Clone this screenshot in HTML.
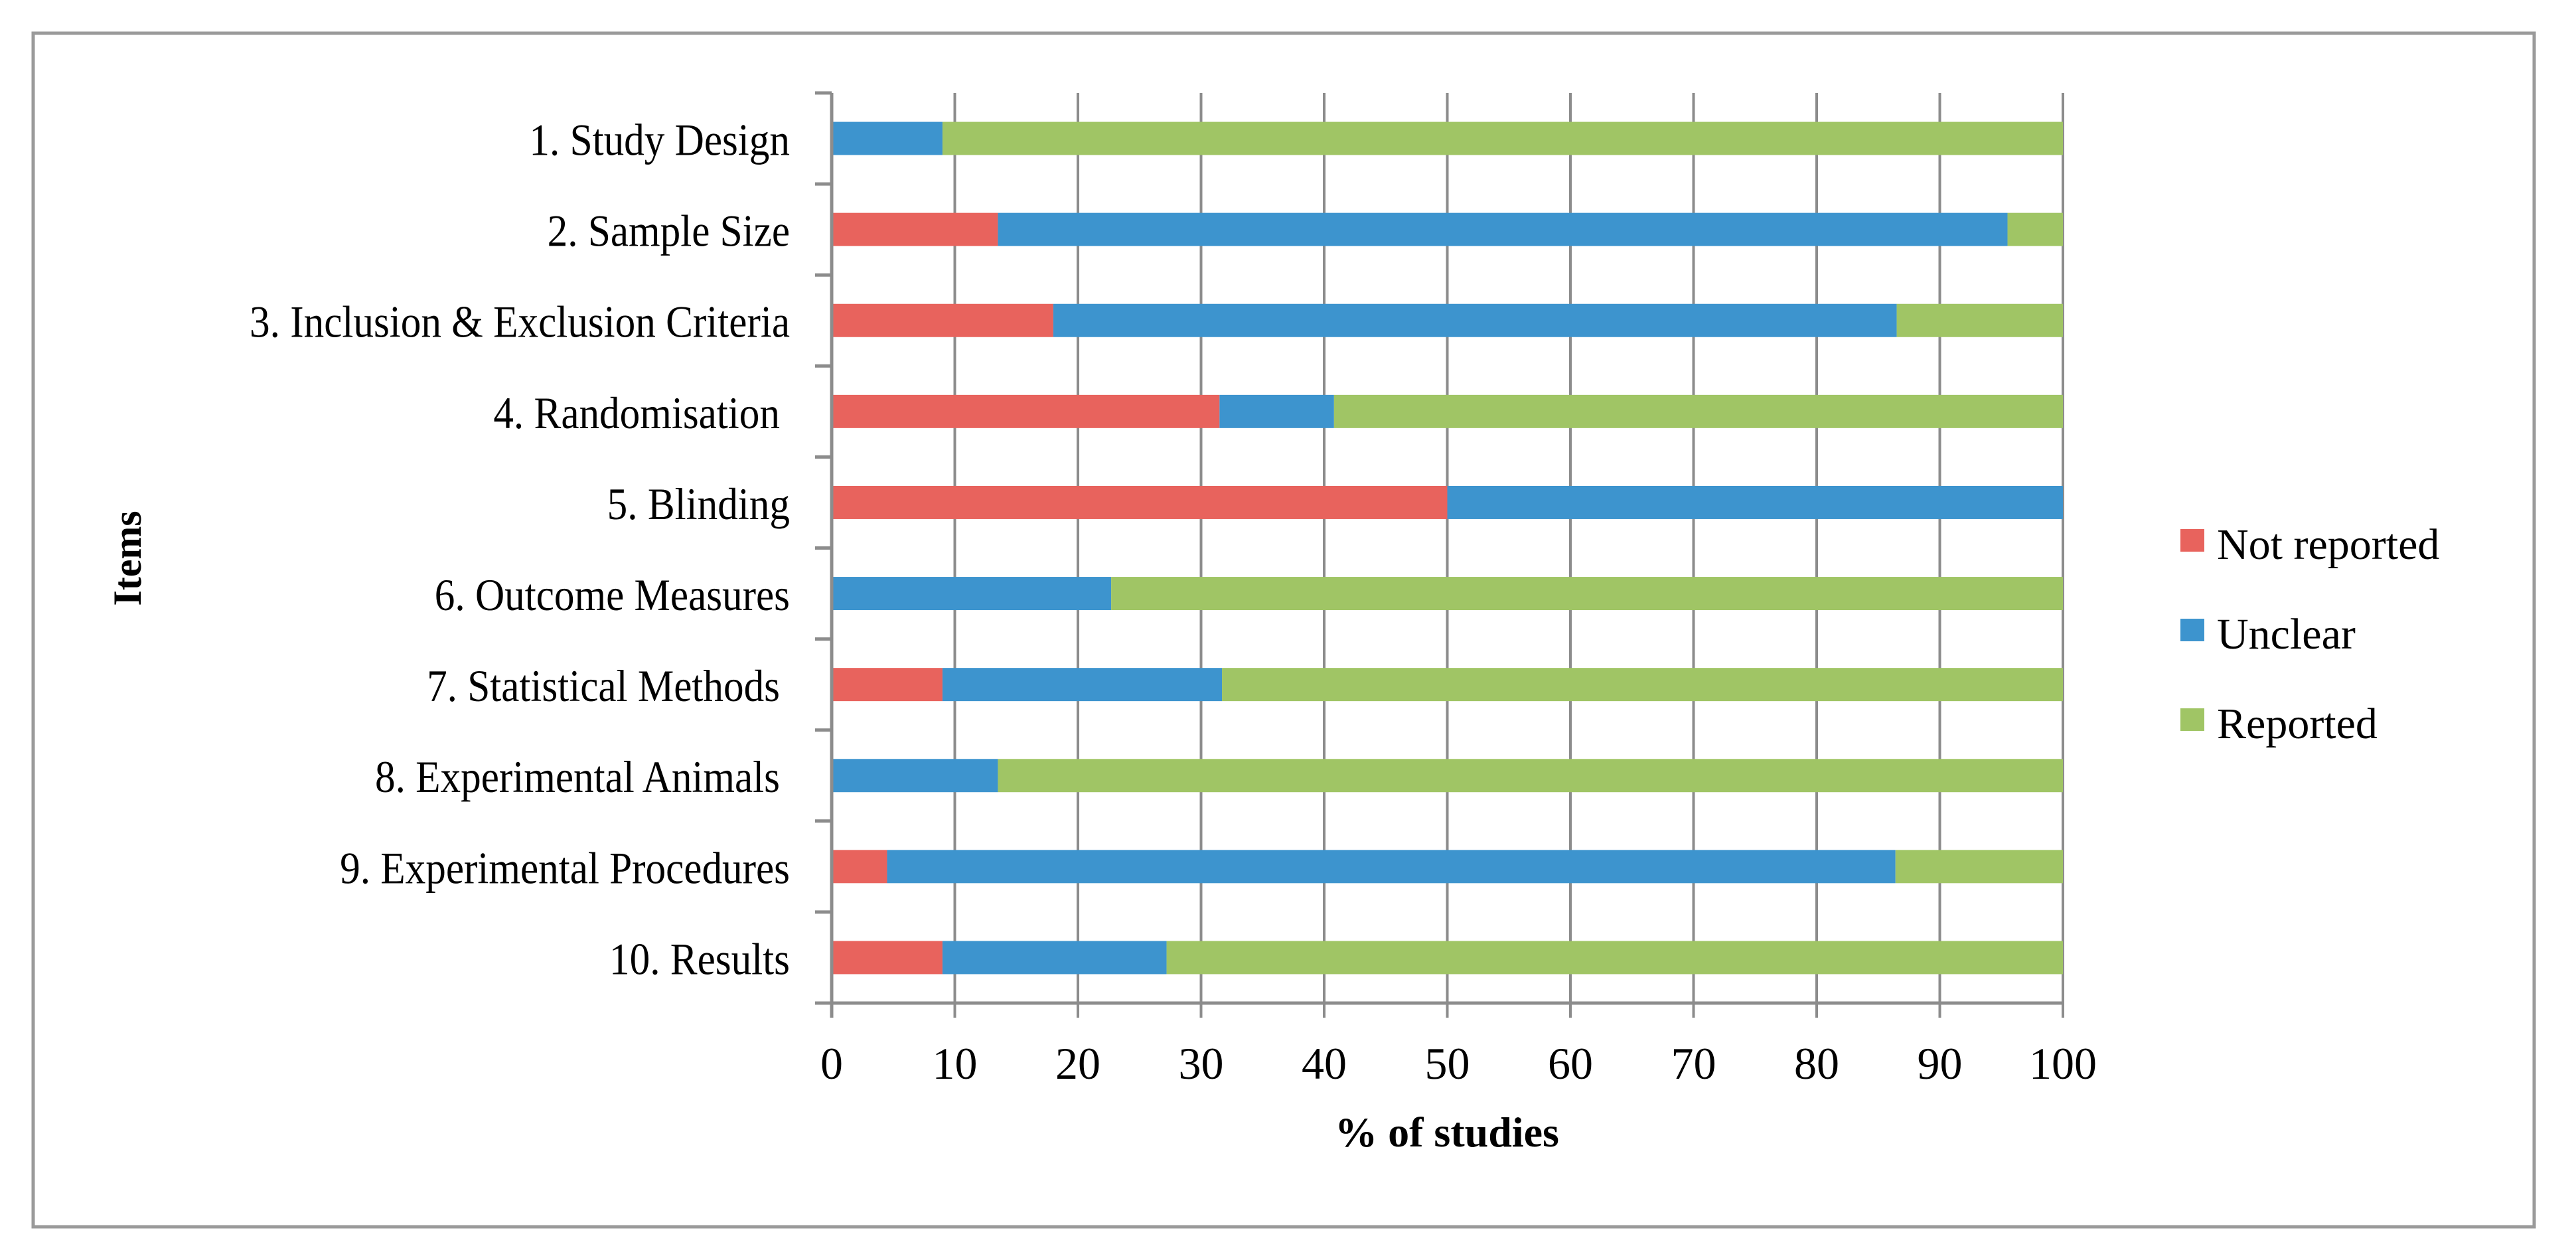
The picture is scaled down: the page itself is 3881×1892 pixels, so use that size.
<!DOCTYPE html>
<html><head><meta charset="utf-8"><style>
html,body{margin:0;padding:0;background:#fff;}
svg{display:block;}
text{font-family:"Liberation Serif",serif;fill:#000;}
</style></head><body>
<svg id="chart" width="3881" height="1892" viewBox="0 0 3881 1892" xmlns="http://www.w3.org/2000/svg">
<rect x="0" y="0" width="3881" height="1892" fill="#fff"/>
<rect x="50" y="50" width="3768" height="1798" fill="none" stroke="#9a9a9a" stroke-width="5"/>
<g id="grid"></g>
<g id="bars"></g>
<g id="axes"></g>
<g id="labels"></g>
<g id="ticks"></g>
<text x="2180" y="1727" font-size="64" font-weight="bold" text-anchor="middle">% of studies</text>
<text transform="translate(212,841) rotate(-90)" font-size="60" font-weight="bold" text-anchor="middle">Items</text>
<g id="legend"></g>
</svg>
<script>
const categories = ["1. Study Design","2. Sample Size","3. Inclusion & Exclusion Criteria","4. Randomisation","5. Blinding","6. Outcome Measures","7. Statistical Methods","8. Experimental Animals","9. Experimental Procedures","10. Results"];
const notReported = [0,13.5,18,31.5,50,0,9,0,4.5,9];
const unclear = [9,82,68.5,9.3,50,22.7,22.7,13.5,81.9,18.2];
const reported = [91,4.5,13.5,59.2,0,77.3,68.3,86.5,13.6,72.8];
const xTicks = [0,10,20,30,40,50,60,70,80,90,100];
const seriesNames = ["Not reported","Unclear","Reported"];

const NS = "http://www.w3.org/2000/svg";
const X0 = 1253, X1 = 3108, TOP = 140, BOT = 1511;
const band = (BOT - TOP) / categories.length;
const barH = 50;
const colors = ["#E8635D","#3D94CE","#A0C565"];
function xs(v){ return X0 + (X1 - X0) * v / 100; }
function yc(i){ return TOP + band * (i + 0.5); }
function mk(tag, attrs, parent){ const e = document.createElementNS(NS, tag); for (const k in attrs) e.setAttribute(k, attrs[k]); parent.appendChild(e); return e; }

const grid = document.getElementById('grid');
xTicks.forEach(t => {
  const l = mk('line', {x1: xs(t), x2: xs(t), y1: TOP, y2: BOT + 22, stroke: '#8c8c8c', 'stroke-width': 4}, grid);
  
  
});

const bars = document.getElementById('bars');
const series = [notReported, unclear, reported];
categories.forEach((c, i) => {
  let acc = 0;
  series.forEach((s, k) => {
    const v = s[i];
    if (v > 0) {
      const r = mk('rect', {x: xs(acc), y: yc(i) - barH / 2, width: xs(acc + v) - xs(acc), height: barH, fill: colors[k]}, bars);
      
      
    }
    acc += v;
  });
});

const axes = document.getElementById('axes');
const ya = mk('line', {x1: X0, x2: X0, y1: TOP, y2: BOT + 22, stroke: '#8c8c8c', 'stroke-width': 5}, axes);


const xa = mk('line', {x1: X0 - 25, x2: X1, y1: BOT, y2: BOT, stroke: '#8c8c8c', 'stroke-width': 5}, axes);


for (let i = 0; i <= categories.length; i++) {
  const t = mk('line', {x1: X0 - 25, x2: X0, y1: TOP + band * i, y2: TOP + band * i, stroke: '#8c8c8c', 'stroke-width': 5}, axes);
  
  
}

const labels = document.getElementById('labels');
const trailing = [0,0,0,1,0,0,1,1,0,0];
const sx = 0.9;
categories.forEach((c, i) => {
  const xr = 1190 - trailing[i] * 15;
  const t = mk('text', {x: xr / sx, y: yc(i) + 25, 'font-size': 68, 'text-anchor': 'end', transform: 'scale(' + sx + ',1)'}, labels);
  t.textContent = c;
  
  
});

const ticks = document.getElementById('ticks');
xTicks.forEach(v => {
  const t = mk('text', {x: xs(v), y: 1625, 'font-size': 68, 'text-anchor': 'middle'}, ticks);
  t.textContent = v;
  
  
});

const legend = document.getElementById('legend');
seriesNames.forEach((n, k) => {
  const y = 797 + k * 135;
  const r = mk('rect', {x: 3285, y: y, width: 36, height: 34, fill: colors[k]}, legend);
  
  
  const t = mk('text', {x: 3340, y: y + 45, 'font-size': 66}, legend);
  t.textContent = n;
  
  
});
</script>
</body></html>
